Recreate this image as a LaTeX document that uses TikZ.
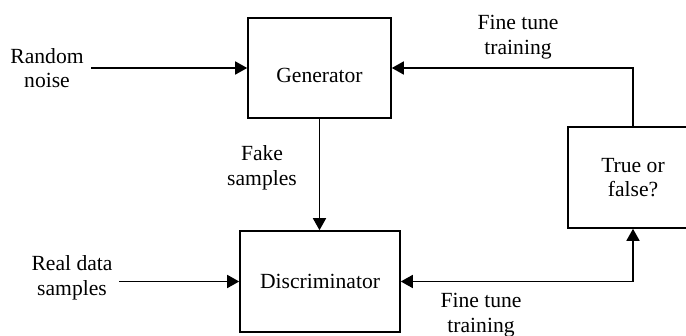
\documentclass[tikz,border=0pt]{standalone}
\usepackage{fontspec}
\setmainfont{Liberation Serif}
\usetikzlibrary{arrows.meta,calc}
\usetikzlibrary{positioning,shapes}
\tikzstyle{block}=[draw, rectangle, inner sep=0pt, align=center]
\tikzstyle{txt}=[align=center, inner sep=0pt]
\tikzstyle{line}=[-{Triangle[length=6pt,width=6.5pt]}]
\tikzstyle{both}=[{Triangle[length=6pt,width=6.5pt]}-{Triangle[length=6pt,width=6.5pt]}]

\begin{document}
\begin{tikzpicture}[x=0.5pt,y=-0.5pt,line width=0.8pt,
  font=\fontsize{10.8}{12.3}\selectfont]
  \useasboundingbox (0,0) rectangle (686,336);
  \clip (0,0) rectangle (686,336);

  % blocks
  \node[block,minimum width=71.5pt,minimum height=50pt] (gen) at (319.5,68)
  {\raisebox{-7.5pt}[0pt][0pt]{Generator}};
  \node[block,minimum width=80pt,minimum height=50.5pt] (dis) at (320,281.5)
  {Discriminator};
  \node[block,minimum width=65pt,minimum height=50.5pt] (judge) at (633,177.5)
  {True or\\false?};

  % inputs
  \coordinate (noise) at (91,68);
  \coordinate (real) at (119,281.5);
  \node[txt] (noisetxt) at (47,68) {Random\\noise};
  \node[txt] (realtxt) at (72,278) {Real data\\samples};
  \draw[line] (noise) -- (gen.west);
  \draw[line] (real) -- (dis.west);

  % generator to discriminator
  \draw[line] (gen.south) -- (gen.south |- dis.north);
  \node[txt] (fake) at (262,168) {Fake\\samples};

  % feedback
  \draw[line] (judge.north) |- (gen.east);
  \draw[both] (dis.east) -| (judge.south);
  \node[txt] (tunegen) at (518,37) {Fine tune\\training};
  \node[txt] (tunedis) at (481,315) {Fine tune\\training};

\end{tikzpicture}
\end{document}
